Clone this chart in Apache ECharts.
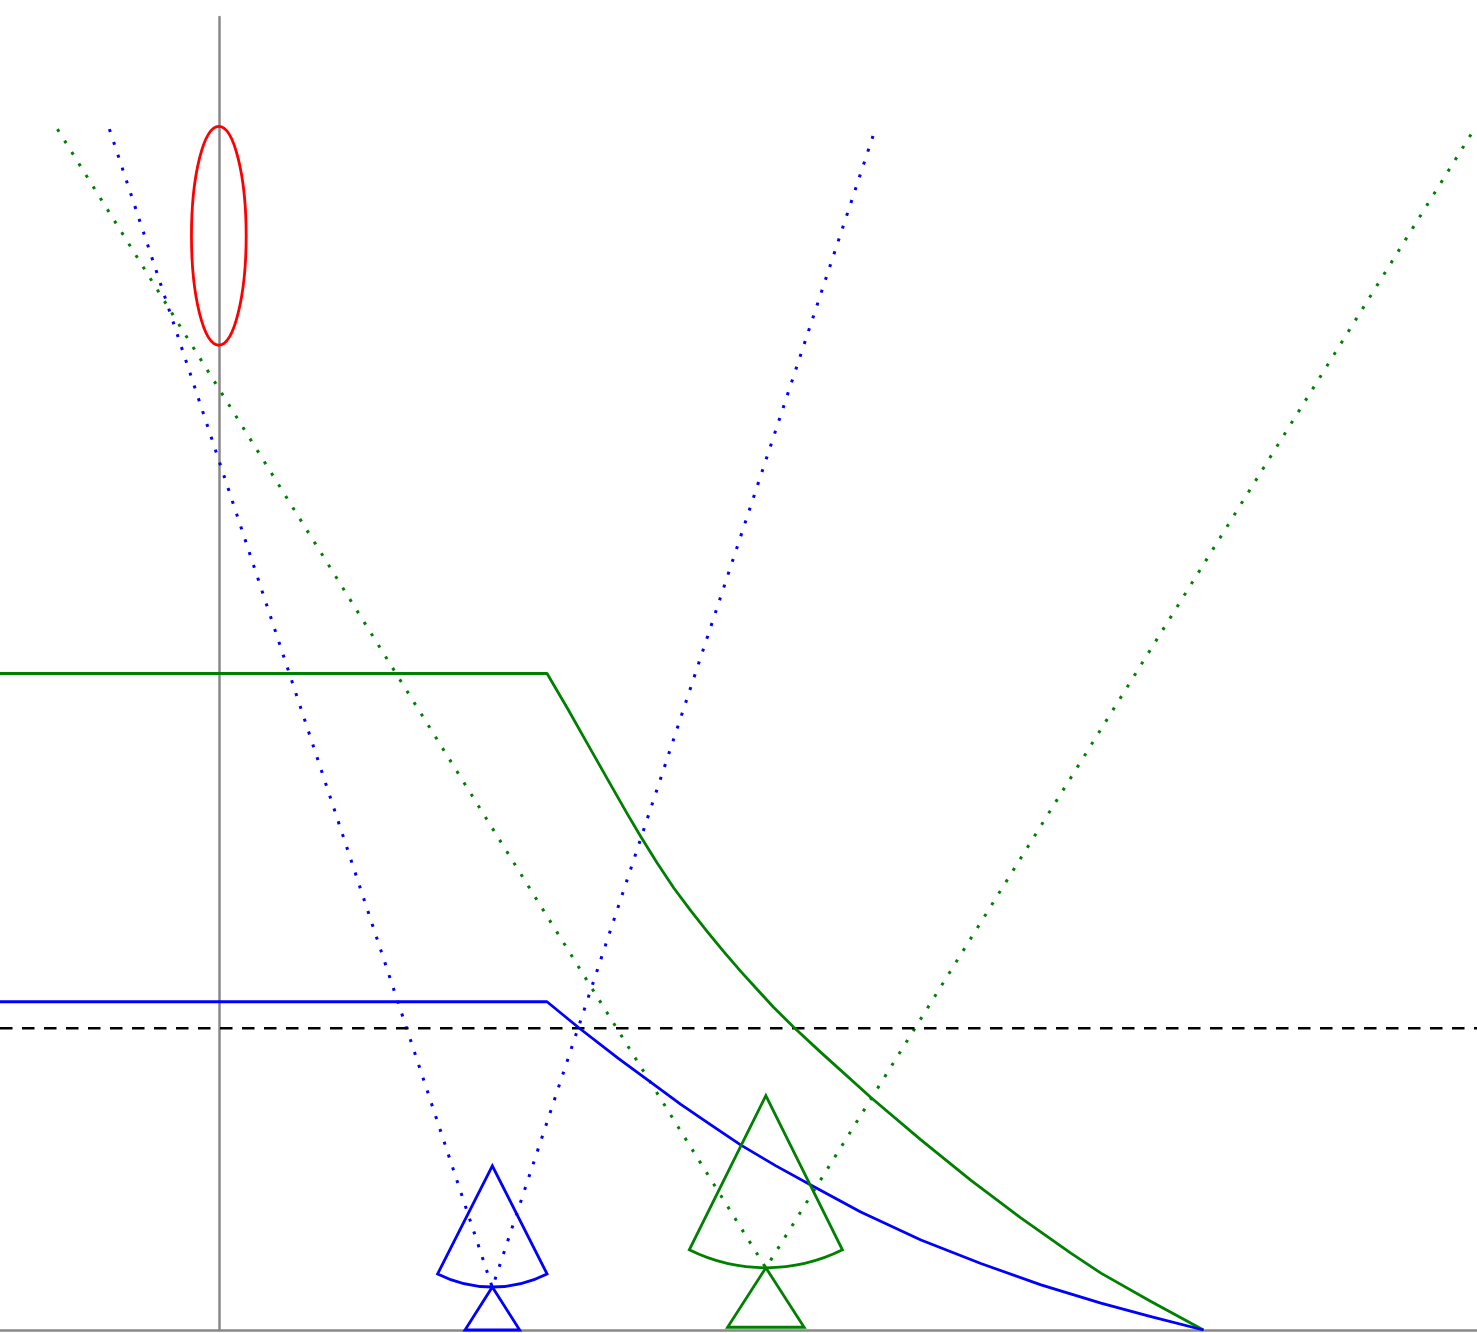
<!DOCTYPE html>
<html>
<head>
<meta charset="utf-8">
<script src="https://cdn.jsdelivr.net/npm/echarts@6/dist/echarts.min.js"></script>
<style>
  html, body { margin: 0; padding: 0; background: #ffffff; }
  #chart { width: 1477px; height: 1333px; }
</style>
</head>
<body>
<div id="chart"></div>
<script>
// Coverage ceilings: flat up to the knee at x = 1.2, then falling to the ground at x = 3.6
const greenX = [-0.8, 1.2, 1.276, 1.349, 1.422, 1.495, 1.543, 1.602, 1.664, 1.726, 1.788, 1.846, 1.909, 1.971, 2.029, 2.102, 2.201, 2.384, 2.567, 2.750, 2.932, 3.115, 3.225, 3.408, 3.6];
const greenY = [2.4,  2.4, 2.270, 2.141, 2.012, 1.884, 1.803, 1.708, 1.615, 1.532, 1.454, 1.383, 1.310, 1.242, 1.179, 1.107, 1.015, 0.850, 0.695, 0.547, 0.410, 0.281, 0.208, 0.104, 0];
const blueX  = [-0.8, 1.2, 1.316, 1.463, 1.580, 1.689, 1.799, 1.909, 2.037, 2.176, 2.347, 2.567, 2.786, 3.006, 3.225, 3.408, 3.6];
const blueY  = [1.2,  1.2, 1.105, 0.991, 0.905, 0.825, 0.750, 0.676, 0.600, 0.524, 0.431, 0.329, 0.243, 0.165, 0.098, 0.049, 0];

// Reference level (dashed)
const dashedLevel = 1.103;

// Sensors: blue, green
const sensorColors     = ['#0000ff', '#008000'];
const sensorX          = [1.0, 2.0];
const sensorTopY       = [0.6, 0.857];
const sensorCornerY    = [0.205, 0.293];
const sensorCornerHalf = [0.2, 0.28];
const standBaseHalf    = [0.1, 0.14];
const standBaseY       = [0, 0.01];

// Beam edges: from the sensor's lowest point up to the top level
const beamApexY   = [0.155, 0.227];
const beamTopY    = 4.39;
const beamTopHalf = [1.4, 2.59];

// Target ellipse
const targetCenter = [0, 4.0];
const targetRadii  = [0.1, 0.4];

const chart = echarts.init(document.getElementById('chart'), null, { renderer: 'canvas' });

function pairs(xs, ys) { return xs.map((x, i) => [x, ys[i]]); }

const series = [];

// beams (dotted)
sensorX.forEach((sx, i) => {
  series.push({
    type: 'line',
    data: [[sx - beamTopHalf[i], beamTopY], [sx, beamApexY[i]], [sx + beamTopHalf[i], beamTopY]],
    showSymbol: false,
    lineStyle: { color: sensorColors[i], width: 3, type: [3, 10.5] },
    z: 2
  });
});

// dashed level
series.push({
  type: 'line',
  data: [[-0.8, dashedLevel], [4.6, dashedLevel]],
  showSymbol: false,
  lineStyle: { color: '#000000', width: 2.5, type: [12.5, 9.5] },
  z: 3
});

// ceilings
series.push({
  type: 'line', data: pairs(greenX, greenY), showSymbol: false,
  lineStyle: { color: sensorColors[1], width: 2.8, join: 'round' }, z: 4
});
series.push({
  type: 'line', data: pairs(blueX, blueY), showSymbol: false,
  lineStyle: { color: sensorColors[0], width: 2.8, join: 'round' }, z: 4
});

// sensor glyphs: sector head on a triangular stand
series.push({
  type: 'custom',
  data: sensorX.map((x, i) => [x, sensorTopY[i], sensorCornerY[i], sensorCornerHalf[i], standBaseHalf[i], standBaseY[i], i]),
  renderItem: function (params, api) {
    const x = api.value(0), top = api.value(1), cy = api.value(2), half = api.value(3);
    const bh = api.value(4), by = api.value(5), idx = api.value(6);
    const color = sensorColors[idx];
    const apex = api.coord([x, top]);
    const cr = api.coord([x + half, cy]);
    const cl = api.coord([x - half, cy]);
    const r = Math.hypot(cr[0] - apex[0], cr[1] - apex[1]);
    const a1 = Math.atan2(cr[1] - apex[1], cr[0] - apex[0]);
    const a2 = Math.atan2(cl[1] - apex[1], cl[0] - apex[0]);
    const bl = api.coord([x - bh, by]);
    const br = api.coord([x + bh, by]);
    const style = { fill: 'none', stroke: color, lineWidth: 2.8 };
    return {
      type: 'group',
      children: [
        { type: 'sector', shape: { cx: apex[0], cy: apex[1], r0: 0, r: r, startAngle: a1, endAngle: a2, clockwise: true }, style: style },
        { type: 'polygon', shape: { points: [[apex[0], apex[1] + r], br, bl] }, style: style }
      ]
    };
  },
  z: 5
});

// target
series.push({
  type: 'custom',
  data: [[targetCenter[0], targetCenter[1], targetRadii[0], targetRadii[1]]],
  renderItem: function (params, api) {
    const c = api.coord([api.value(0), api.value(1)]);
    const s = api.size([api.value(2), api.value(3)]);
    return {
      type: 'ellipse',
      shape: { cx: c[0], cy: c[1], rx: s[0], ry: s[1] },
      style: { fill: 'none', stroke: '#ff0000', lineWidth: 2.8 }
    };
  },
  z: 5
});

chart.setOption({
  animation: false,
  backgroundColor: '#ffffff',
  grid: { left: 0, right: 0, top: 17, bottom: 3, containLabel: false },
  xAxis: {
    type: 'value', min: -0.8, max: 4.6,
    axisLine: { show: true, onZero: true, lineStyle: { color: '#888888', width: 2.5 } },
    axisTick: { show: false }, axisLabel: { show: false }, splitLine: { show: false }
  },
  yAxis: {
    type: 'value', min: 0, max: 4.8,
    axisLine: { show: true, onZero: true, lineStyle: { color: '#888888', width: 2.5 } },
    axisTick: { show: false }, axisLabel: { show: false }, splitLine: { show: false }
  },
  series: series
});
</script>
</body>
</html>
